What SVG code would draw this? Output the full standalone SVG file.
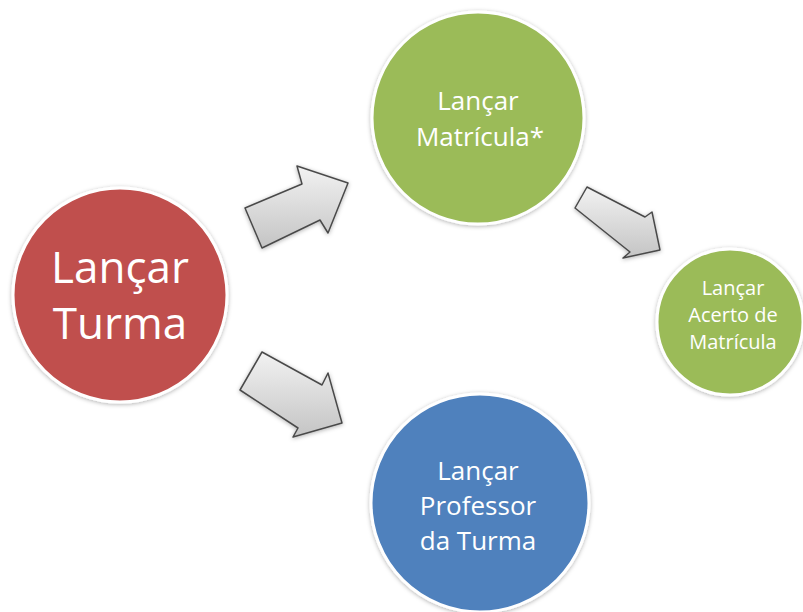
<svg xmlns="http://www.w3.org/2000/svg" width="803" height="612" viewBox="0 0 803 612">
<defs>
<filter id="sh" x="-20%" y="-20%" width="140%" height="140%">
<feDropShadow dx="0" dy="1" stdDeviation="2" flood-color="#000" flood-opacity="0.3"/>
</filter>
<linearGradient id="ag" x1="0" y1="0" x2="0" y2="1">
<stop offset="0" stop-color="#f2f2f2"/>
<stop offset="1" stop-color="#c4c4c4"/>
</linearGradient>
</defs>
<style>
.node{stroke:#fff;stroke-width:3;filter:url(#sh)}
.arrow{fill:url(#ag);stroke:#4a4a4a;stroke-width:1.5;stroke-linejoin:round;filter:url(#sh)}
text{font-family:"Open Sans","Liberation Sans",sans-serif;fill:#fff;text-anchor:middle}
</style>
<rect width="803" height="612" fill="#fff"/>
<g id="connectors">
<polygon class="arrow" points="245,208 302,184 297,166 348,183 328,233 320,220 262,248"/>
<polygon class="arrow" points="262,352 322,385 328,373 342,423 293,437 298,428 240,390"/>
<polygon class="arrow" points="587,187 645,217 652,212 660,250 623,258 630,252 575,208"/>
</g>
<g id="lancar-turma">
<circle class="node" cx="120" cy="295" r="107" fill="#C0504D"/>
<text x="120" y="283" font-size="44">Lançar</text>
<text x="120" y="339" font-size="44">Turma</text>
</g>
<g id="lancar-matricula">
<circle class="node" cx="478" cy="118" r="106" fill="#9BBB59"/>
<text x="478" y="110" font-size="26">Lançar</text>
<text x="480" y="146" font-size="26">Matrícula*</text>
</g>
<g id="lancar-acerto">
<circle class="node" cx="730" cy="322" r="73" fill="#9BBB59"/>
<text x="733" y="295" font-size="20">Lançar</text>
<text x="733" y="322" font-size="20">Acerto de</text>
<text x="733" y="349" font-size="20">Matrícula</text>
</g>
<g id="lancar-professor">
<circle class="node" cx="480" cy="503" r="109" fill="#4F81BD"/>
<text x="478" y="480" font-size="26">Lançar</text>
<text x="478" y="515" font-size="26">Professor</text>
<text x="478" y="550" font-size="26">da Turma</text>
</g>
</svg>
